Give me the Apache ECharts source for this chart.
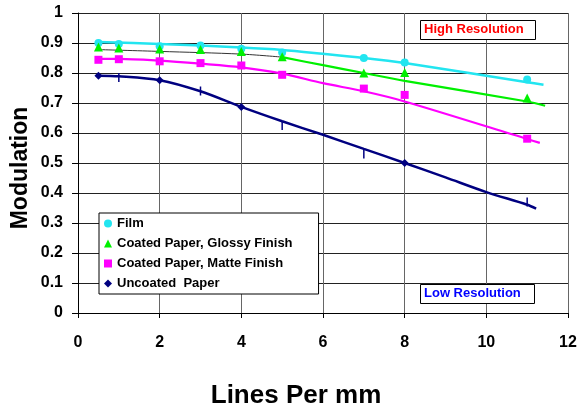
<!DOCTYPE html>
<html>
<head>
<meta charset="utf-8">
<script src="https://cdn.jsdelivr.net/npm/echarts@6/dist/echarts.min.js"></script>
<style>
html,body{margin:0;padding:0;background:#fff;}
#chart{width:580px;height:409px;}
</style>
</head>
<body>
<div id="chart"></div>
<script>
// ---- data ----
const seriesNames = ['Film', 'Coated Paper, Glossy Finish', 'Coated Paper, Matte Finish', 'Uncoated  Paper'];
const xTicks = [0, 2, 4, 6, 8, 10, 12];
const yTicks = [0, 0.1, 0.2, 0.3, 0.4, 0.5, 0.6, 0.7, 0.8, 0.9, 1];

const xMeasured = [0.5, 1, 2, 3, 4, 5, 7, 8, 11];
const filmPts   = [0.900, 0.897, 0.889, 0.892, 0.881, 0.868, 0.850, 0.835, 0.778];
const glossyPts = [0.887, 0.883, 0.880, 0.878, 0.872, 0.854, 0.800, 0.802, 0.717];
const mattePts  = [0.844, 0.846, 0.839, 0.833, 0.825, 0.794, 0.748, 0.727, 0.581];

const xUncoatedDiamond = [0.5, 2, 4, 8];
const uncoatedDiamond  = [0.791, 0.776, 0.687, 0.500];
const xUncoatedDash    = [1, 3, 5, 7, 11];
const uncoatedDash     = [0.785, 0.740, 0.625, 0.530, 0.370];

// trend lines
const xFilmFit   = [0.5, 2, 4, 5, 6, 7, 8, 11, 11.4];
const filmFit    = [0.903, 0.897, 0.885, 0.877, 0.864, 0.850, 0.833, 0.769, 0.761];
const xGlossyFitA = [0.5, 2, 4, 5];
const glossyFitA  = [0.878, 0.872, 0.863, 0.853];
const xGlossyFitB = [5, 6, 7, 8, 11, 11.44];
const glossyFitB  = [0.853, 0.826, 0.800, 0.774, 0.705, 0.691];
const xMatteFit  = [0.5, 1, 2, 3, 4, 5, 6, 7, 8, 11, 11.31];
const matteFit   = [0.847, 0.847, 0.841, 0.831, 0.819, 0.798, 0.766, 0.739, 0.705, 0.580, 0.567];
const xUncoatedFit = [0.5, 1, 2, 3, 4, 5, 6, 7, 8, 9, 10, 11, 11.22];
const uncoatedFit  = [0.791, 0.789, 0.776, 0.739, 0.687, 0.639, 0.594, 0.547, 0.500, 0.452, 0.403, 0.361, 0.348];

const colors = ['#22E5F0', '#00F000', '#FF00FF', '#000080'];

function pairs(xs, ys) { return xs.map((x, i) => [x, ys[i]]); }

const FONT = "'Liberation Sans', Arial, sans-serif";

const chart = echarts.init(document.getElementById('chart'), null, {renderer: 'canvas'});

function fitLine(name, xs, ys, color, width) {
  return {
    name: name, type: 'line', data: pairs(xs, ys), smooth: 0.3,
    showSymbol: false, symbol: 'none', silent: true, z: 2,
    lineStyle: {color: color, width: width}, itemStyle: {color: color}
  };
}
function points(name, xs, ys, color, symbol, size) {
  return {
    name: name, type: 'scatter', data: pairs(xs, ys), symbol: symbol,
    symbolSize: size, z: 4, itemStyle: {color: color, opacity: 1}
  };
}

const option = {
  animation: false,
  backgroundColor: '#ffffff',
  textStyle: {fontFamily: FONT},
  grid: {left: 78, right: 12, top: 13, bottom: 96, containLabel: false, outerBoundsMode: 'none'},
  title: [
    {text: 'High Resolution', left: 420, top: 20, padding: [3, 12, 4, 4],
     borderColor: '#000', borderWidth: 1, backgroundColor: '#fff',
     textStyle: {color: '#FF0000', fontSize: 13, fontWeight: 'bold', fontFamily: FONT}},
    {text: 'Low Resolution', left: 420, top: 284, padding: [3, 14, 4, 4],
     borderColor: '#000', borderWidth: 1, backgroundColor: '#fff',
     textStyle: {color: '#0000FF', fontSize: 13, fontWeight: 'bold', fontFamily: FONT}}
  ],
  legend: {
    data: [
      {name: seriesNames[0], icon: 'circle'},
      {name: seriesNames[1], icon: 'triangle'},
      {name: seriesNames[2], icon: 'rect'},
      {name: seriesNames[3], icon: 'diamond'}
    ],
    orient: 'vertical', left: 99, top: 213,
    itemWidth: 8, itemHeight: 8, itemGap: 7,
    padding: [4, 26, 4, 5],
    borderColor: '#000', borderWidth: 1, backgroundColor: '#fff',
    textStyle: {fontSize: 13, fontWeight: 'bold', color: '#000', fontFamily: FONT},
    selectedMode: false
  },
  xAxis: {
    type: 'value', min: 0, max: 12, interval: 2,
    name: 'Lines Per mm', nameLocation: 'middle', nameGap: 70, nameMoveOverlap: false,
    nameTextStyle: {fontSize: 26, fontWeight: 'bold', color: '#000', fontFamily: FONT, padding: [0, 54, 0, 0]},
    axisLine: {show: true, onZero: false, lineStyle: {color: '#000', width: 1}},
    axisTick: {show: true, length: 5, inside: false, lineStyle: {color: '#000'}},
    axisLabel: {fontSize: 16, fontWeight: 'bold', color: '#000', margin: 22, fontFamily: FONT,
      formatter: v => (xTicks.indexOf(v) >= 0 ? String(v) : '')},
    splitLine: {show: true, lineStyle: {color: '#666', width: 1}}
  },
  yAxis: {
    type: 'value', min: 0, max: 1, interval: 0.1,
    name: 'Modulation', nameLocation: 'middle', nameGap: 46, nameRotate: 90, nameMoveOverlap: false,
    nameTextStyle: {fontSize: 23, fontWeight: 'bold', color: '#000', fontFamily: FONT, padding: [0, 10, 0, 0]},
    axisLine: {show: true, lineStyle: {color: '#000', width: 1}},
    axisTick: {show: true, length: 6, inside: false, lineStyle: {color: '#000'}},
    axisLabel: {fontSize: 16, fontWeight: 'bold', color: '#000', margin: 15, fontFamily: FONT,
      formatter: v => {
        const t = yTicks.find(t => Math.abs(t - v) < 1e-6);
        return t === undefined ? '' : String(t);
      }},
    splitLine: {show: true, lineStyle: {color: '#222', width: 1}}
  },
  series: [
    fitLine('Film fit', xFilmFit, filmFit, colors[0], 2.5),
    fitLine('Glossy fit A', xGlossyFitA, glossyFitA, '#333333', 1),
    fitLine('Glossy fit B', xGlossyFitB, glossyFitB, colors[1], 2.2),
    fitLine('Matte fit', xMatteFit, matteFit, colors[2], 2.2),
    fitLine('Uncoated fit', xUncoatedFit, uncoatedFit, colors[3], 2.5),
    points(seriesNames[0], xMeasured, filmPts, colors[0], 'circle', 8),
    points(seriesNames[1], xMeasured, glossyPts, colors[1], 'triangle', 9),
    points(seriesNames[2], xMeasured, mattePts, colors[2], 'rect', 8),
    points(seriesNames[3], xUncoatedDiamond, uncoatedDiamond, colors[3], 'diamond', 8),
    points('Uncoated dash', xUncoatedDash, uncoatedDash, colors[3], 'rect', [1.5, 9])
  ]
};
chart.setOption(option);
</script>
</body>
</html>
